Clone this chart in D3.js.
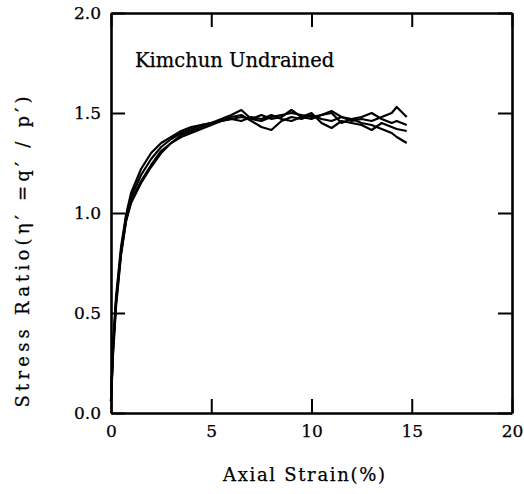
<!DOCTYPE html>
<html>
<head>
<meta charset="utf-8">
<script src="https://cdn.jsdelivr.net/npm/d3@7"></script>
<style>
  html, body { margin: 0; padding: 0; background: #fff; }
  svg { display: block; }
  text { font-family: "DejaVu Serif", "Liberation Serif", serif; fill: #000; stroke: #000; stroke-width: 0.25; }
</style>
</head>
<body>
<svg id="chart" width="524" height="494"></svg>
<script>
// ---- data ----
const strain = [0, 0.1, 0.25, 0.5, 0.75, 1, 1.5, 2, 2.5, 3, 3.5, 4, 4.5, 5, 5.5, 6, 6.5, 7, 7.5, 8, 8.5, 9, 9.5, 10, 10.5, 11, 11.5, 12, 12.5, 13, 13.5, 14, 14.25, 14.75];
const seriesA = [0.06, 0.34, 0.58, 0.83, 0.99, 1.1, 1.22, 1.3, 1.35, 1.38, 1.41, 1.43, 1.44, 1.45, 1.47, 1.49, 1.515, 1.47, 1.46, 1.48, 1.49, 1.5, 1.49, 1.48, 1.49, 1.51, 1.48, 1.46, 1.47, 1.46, 1.48, 1.5, 1.53, 1.48];
const seriesB = [0.06, 0.29, 0.53, 0.79, 0.96, 1.06, 1.16, 1.24, 1.31, 1.35, 1.39, 1.41, 1.43, 1.45, 1.46, 1.48, 1.49, 1.46, 1.43, 1.415, 1.46, 1.48, 1.47, 1.49, 1.47, 1.46, 1.48, 1.47, 1.45, 1.44, 1.42, 1.4, 1.38, 1.35];
const seriesC = [0.06, 0.32, 0.56, 0.81, 0.98, 1.08, 1.19, 1.27, 1.33, 1.37, 1.4, 1.42, 1.44, 1.45, 1.46, 1.47, 1.48, 1.47, 1.49, 1.47, 1.48, 1.515, 1.48, 1.47, 1.49, 1.5, 1.45, 1.47, 1.48, 1.5, 1.47, 1.45, 1.46, 1.44];
const seriesD = [0.06, 0.31, 0.55, 0.8, 0.96, 1.05, 1.15, 1.23, 1.3, 1.35, 1.38, 1.4, 1.42, 1.44, 1.46, 1.47, 1.46, 1.48, 1.47, 1.49, 1.47, 1.46, 1.48, 1.5, 1.45, 1.425, 1.46, 1.45, 1.44, 1.415, 1.45, 1.43, 1.42, 1.41];
const xTicks = [0, 5, 10, 15, 20];
const yTicks = [0.0, 0.5, 1.0, 1.5, 2.0];
const title = "Kimchun Undrained";
const xLabel = "Axial Strain(%)";
const yLabel = "Stress Ratio(η′ =q′ / p′)";

// ---- layout ----
const svg = d3.select("#chart");
const L = 111, R = 512, T = 13, B = 413;
const x = d3.scaleLinear().domain([0, 20]).range([L, R]);
const y = d3.scaleLinear().domain([0, 2]).range([B, T]);
const tick = 14;

function styleAxis(g) {
  g.selectAll(".domain").attr("stroke", "#000").attr("stroke-width", 2.6);
  g.selectAll(".tick line").attr("stroke", "#000").attr("stroke-width", 2);
  g.selectAll("text").style("font-family", '"DejaVu Serif", serif').style("font-size", "17px").attr("fill", "#000");
}

svg.append("g").attr("transform", `translate(0,${B})`)
  .call(d3.axisBottom(x).tickValues(xTicks).tickFormat(d3.format("d")).tickSizeInner(-tick).tickSizeOuter(0).tickPadding(12))
  .call(styleAxis);
svg.append("g").attr("transform", `translate(0,${T})`)
  .call(d3.axisTop(x).tickValues(xTicks).tickFormat("").tickSizeInner(-tick).tickSizeOuter(0))
  .call(styleAxis);
svg.append("g").attr("transform", `translate(${L},0)`)
  .call(d3.axisLeft(y).tickValues(yTicks).tickFormat(d3.format(".1f")).tickSizeInner(-tick).tickSizeOuter(0).tickPadding(10))
  .call(styleAxis);
svg.append("g").attr("transform", `translate(${R},0)`)
  .call(d3.axisRight(y).tickValues(yTicks).tickFormat("").tickSizeInner(-tick).tickSizeOuter(0))
  .call(styleAxis);

// ---- curves ----
const line = d3.line().x((d, i) => x(strain[i])).y(d => y(d)).curve(d3.curveLinear);
[seriesA, seriesB, seriesC, seriesD].forEach(s => {
  svg.append("path").datum(s).attr("d", line)
    .attr("fill", "none").attr("stroke", "#000").attr("stroke-width", 2.2)
    .attr("stroke-linejoin", "round");
});

// ---- texts ----
svg.append("text").attr("x", 135).attr("y", 67).style("font-size", "19.5px").text(title);
svg.append("text").attr("x", 304).attr("y", 481).attr("text-anchor", "middle").style("font-size", "18px")
  .attr("textLength", 162).attr("lengthAdjust", "spacing").text(xLabel);
svg.append("text").attr("transform", "translate(29,252) rotate(-90)").attr("text-anchor", "middle")
  .style("font-size", "18px").attr("textLength", 311).attr("lengthAdjust", "spacing").text(yLabel);
</script>
</body>
</html>
